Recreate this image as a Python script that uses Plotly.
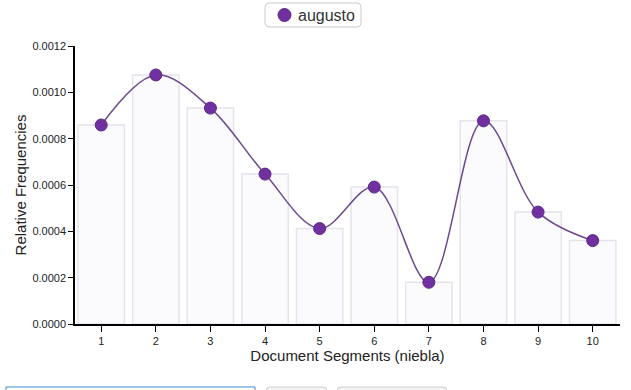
import plotly.graph_objects as go

segments = [1, 2, 3, 4, 5, 6, 7, 8, 9, 10]
rel_freq = [0.000859, 0.001075, 0.000932, 0.000647, 0.000412, 0.000591,
            0.000180, 0.000877, 0.000483, 0.000360]
tick_vals_y = [0, 0.0002, 0.0004, 0.0006, 0.0008, 0.0010, 0.0012]
tick_text_y = ["0.0000", "0.0002", "0.0004", "0.0006", "0.0008", "0.0010", "0.0012"]
series_name = "augusto"

MARKER = "#7030a0"
MARKER_EDGE = "#5a2a85"

fig = go.Figure()
fig.add_trace(go.Bar(
    x=segments, y=rel_freq, width=0.85,
    marker=dict(color="#fbfbfe", line=dict(color="#e6e3ec", width=1.5)),
    showlegend=False, hoverinfo="skip"))
fig.add_trace(go.Scatter(
    x=segments, y=rel_freq, mode="lines+markers", name=series_name, showlegend=False,
    line=dict(shape="spline", smoothing=1.0, color="#6b4a8e", width=1.5),
    marker=dict(size=12, color=MARKER, line=dict(color=MARKER_EDGE, width=1))))

font_family = "Liberation Sans, Arial, sans-serif"
fig.update_layout(
    width=631, height=390,
    margin=dict(l=75, r=11, t=46, b=66, autoexpand=False),
    paper_bgcolor="white", plot_bgcolor="white",
    font=dict(family=font_family, color="#222"),
    showlegend=False,
)
fig.update_xaxes(range=[0.52, 10.5], tickvals=segments, ticks="outside", ticklen=6,
                 tickcolor="black", showline=True, linecolor="black", linewidth=1.5,
                 showgrid=False, zeroline=False, tickfont=dict(size=11), automargin=False,
                 title=dict(text="Document Segments (niebla)", font=dict(size=15), standoff=5))
fig.update_yaxes(range=[0, 0.0012], tickvals=tick_vals_y, ticktext=tick_text_y,
                 ticks="outside", ticklen=5, tickcolor="black", showline=True,
                 linecolor="black", linewidth=1.5, showgrid=False, zeroline=False,
                 tickfont=dict(size=11), automargin=False,
                 title=dict(text="Relative Frequencies", font=dict(size=15), standoff=2))


def rounded_rect(w, h, r):
    # path centred on the anchor, in pixels (y up)
    x0, x1, y0, y1 = -w / 2, w / 2, -h / 2, h / 2
    return (f"M{x0 + r},{y0} L{x1 - r},{y0} Q{x1},{y0} {x1},{y0 + r} "
            f"L{x1},{y1 - r} Q{x1},{y1} {x1 - r},{y1} L{x0 + r},{y1} "
            f"Q{x0},{y1} {x0},{y1 - r} L{x0},{y0 + r} Q{x0},{y0} {x0 + r},{y0} Z")


# manual legend (rounded box, circle marker, label)
fig.add_shape(type="path", xref="paper", yref="paper", xsizemode="pixel", ysizemode="pixel",
              xanchor=0.4367, yanchor=1.1115, path=rounded_rect(96, 24, 4),
              line=dict(color="#cccccc", width=1), fillcolor="white")
fig.add_shape(type="circle", xref="paper", yref="paper", xsizemode="pixel", ysizemode="pixel",
              xanchor=0.3844, yanchor=1.1115, x0=-6.5, x1=6.5, y0=-6.5, y1=6.5,
              line=dict(color=MARKER_EDGE, width=1), fillcolor=MARKER)
fig.add_annotation(text=series_name, xref="paper", yref="paper", x=0.4055, y=1.1115,
                   xanchor="left", yanchor="middle", showarrow=False,
                   font=dict(size=16, color="#333"))

# page UI elements partly visible below the chart
fig.add_shape(type="rect", xref="paper", yref="paper", x0=-0.1266, x1=0.3303, y0=-0.2266, y1=-0.3,
              line=dict(color="#3d8bd0", width=1), fillcolor="white")
fig.add_shape(type="path", xref="paper", yref="paper", xsizemode="pixel", ysizemode="pixel",
              xanchor=0.4064, yanchor=-0.2626, path=rounded_rect(61, 20, 4),
              line=dict(color="#d0d0d0", width=1), fillcolor="#f4f4f4")
fig.add_shape(type="path", xref="paper", yref="paper", xsizemode="pixel", ysizemode="pixel",
              xanchor=0.5817, yanchor=-0.2626, path=rounded_rect(110, 20, 4),
              line=dict(color="#d0d0d0", width=1), fillcolor="#f4f4f4")

fig.write_html("out.html", config={"displayModeBar": False},
               post_script="document.body.style.margin='0';")
